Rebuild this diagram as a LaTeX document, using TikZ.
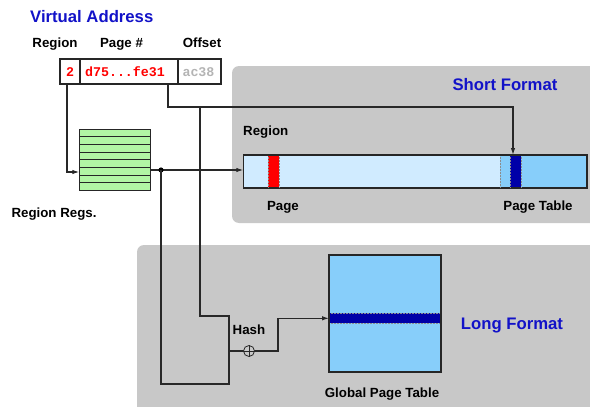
\documentclass[tikz,border=0pt]{standalone}
\usepackage{fontspec}
\setmainfont{Liberation Sans}
\setmonofont{Liberation Mono}
\usetikzlibrary{arrows.meta}

\definecolor{headblue}{HTML}{1212C8}
\definecolor{panelgray}{HTML}{C8C8C8}
\definecolor{reggreen}{HTML}{B2F5A4}
\definecolor{barlight}{HTML}{D0EBFF}
\definecolor{tablesky}{HTML}{87CEFA}
\definecolor{entryblue}{HTML}{0000A8}
\definecolor{offgray}{HTML}{B4B4B4}
\definecolor{wiregray}{HTML}{282828}

\tikzset{
  wire/.style={draw=wiregray, line width=1.15pt},
  arr/.style={wire, -{Latex[length=7pt,width=4.5pt]}},
  lbl/.style={font=\fontsize{13.3}{15}\selectfont\bfseries, inner sep=0pt, anchor=base},
  head/.style={font=\fontsize{16.7}{20}\selectfont\bfseries, text=headblue, inner sep=0pt, anchor=base},
  field/.style={draw=black!85, line width=1.1pt, inner sep=0pt, minimum height=25pt},
  fieldtxt/.style={font=\fontsize{13.3}{15}\selectfont\ttfamily\bfseries, inner sep=0pt, anchor=base},
  slab/.style={draw=black!85, line width=1.1pt, inner sep=0pt, anchor=north west},
  edge/.style={draw=black!45, densely dotted, line width=0.5pt},
}

\begin{document}
\begin{tikzpicture}[x=1pt, y=-1pt]
\useasboundingbox (0,0) rectangle (590,407);
\clip (0,0) rectangle (590,407);

% format panels
\fill[panelgray, rounded corners=7pt] (232,66) rectangle (620,223);
\fill[panelgray, rounded corners=7pt] (137,245) rectangle (620,430);

% virtual address
\node[head, anchor=base west] (va) at (30,22) {Virtual Address};
\node[lbl] (hreg) at (55,47.3) {Region};
\node[lbl] (hpg) at (121.5,47.3) {Page \#};
\node[lbl] (hoff) at (202,47.3) {Offset};

\node[field, minimum width=20pt] (reg) at (70,71.5) {};
\node[field, minimum width=98pt] (pg) at (129,71.5) {};
\node[field, minimum width=43pt] (off) at (199.5,71.5) {};
\node[fieldtxt, text=red] (regtxt) at (70,76) {2};
\node[fieldtxt, text=red] (pgtxt) at (125,76) {d75...fe31};
\node[fieldtxt, text=offgray] (offtxt) at (198.5,76) {ac38};

% region registers
\node[slab, fill=reggreen, minimum width=71pt, minimum height=61pt] (regs) at (79.3,129.3) {};
\foreach \k in {1,...,7}
  \draw[black!85, line width=1.1pt] (79.3,129.3+\k*7.625) -- (150.3,129.3+\k*7.625);
\node[lbl] (regslbl) at (54,217.3) {Region Regs.};

% region (short format)
\node[head] (short) at (505,90.3) {Short Format};
\node[lbl, anchor=base west] (rgnlbl) at (243,135) {Region};
\node[slab, fill=barlight, minimum width=342.7pt, minimum height=32.3pt] (bar) at (243.3,155) {};
\fill[red] (268.3,155) rectangle (279,187.3);
\draw[edge] (268.3,155) -- (268.3,187.3) (279,155) -- (279,187.3);
\fill[tablesky] (500,155) rectangle (586,187.3);
\fill[entryblue] (510,155) rectangle (521,187.3);
\draw[edge] (500,155) -- (500,187.3) (510,155) -- (510,187.3) (521,155) -- (521,187.3);
\draw[black!85, line width=1.1pt] (bar.north west) rectangle (bar.south east);
\node[lbl] (pagelbl) at (283,210) {Page};
\node[lbl] (ptlbl) at (538,210) {Page Table};

% global page table (long format)
\node[head] (long) at (512,329.3) {Long Format};
\node[slab, fill=tablesky, minimum width=111pt, minimum height=116pt] (gpt) at (329,255) {};
\fill[entryblue] (329,313.3) rectangle (440,323.3);
\draw[edge] (329,313.3) -- (440,313.3) (329,323.3) -- (440,323.3);
\draw[black!85, line width=1.1pt] (gpt.north west) rectangle (gpt.south east);
\node[lbl] (gptlbl) at (382,397.5) {Global Page Table};
\node[lbl] (hashlbl) at (249,334) {Hash};

% connectors
\coordinate (tap) at (200,107);
\coordinate (dot) at (161,170);
\coordinate (hout) at (229,351);

\draw[arr] ([xshift=-3pt]reg.south) |- (regs.west |- 0,172);
\draw[arr] ([xshift=39pt]pg.south) |- (513,107) -- (bar.north -| 513,0);
\draw[arr] (regs.east |- dot) -- (bar.west |- dot);
\fill[black] (dot) circle (2.6pt);

% hash function block
\draw[wire] (tap) -- (200,316) -- (229,316) -- (229,384) -- (161,384) -- (dot);
\draw[arr] (hout) -- (278,351) |- (gpt.west |- 0,318.3);
\node[circle, draw=wiregray, line width=0.8pt, minimum size=11pt, inner sep=0pt, fill=panelgray] (xor) at (249,351) {};
\draw[wiregray, line width=0.8pt] (xor.north) -- (xor.south) (xor.west) -- (xor.east);
\end{tikzpicture}
\end{document}
